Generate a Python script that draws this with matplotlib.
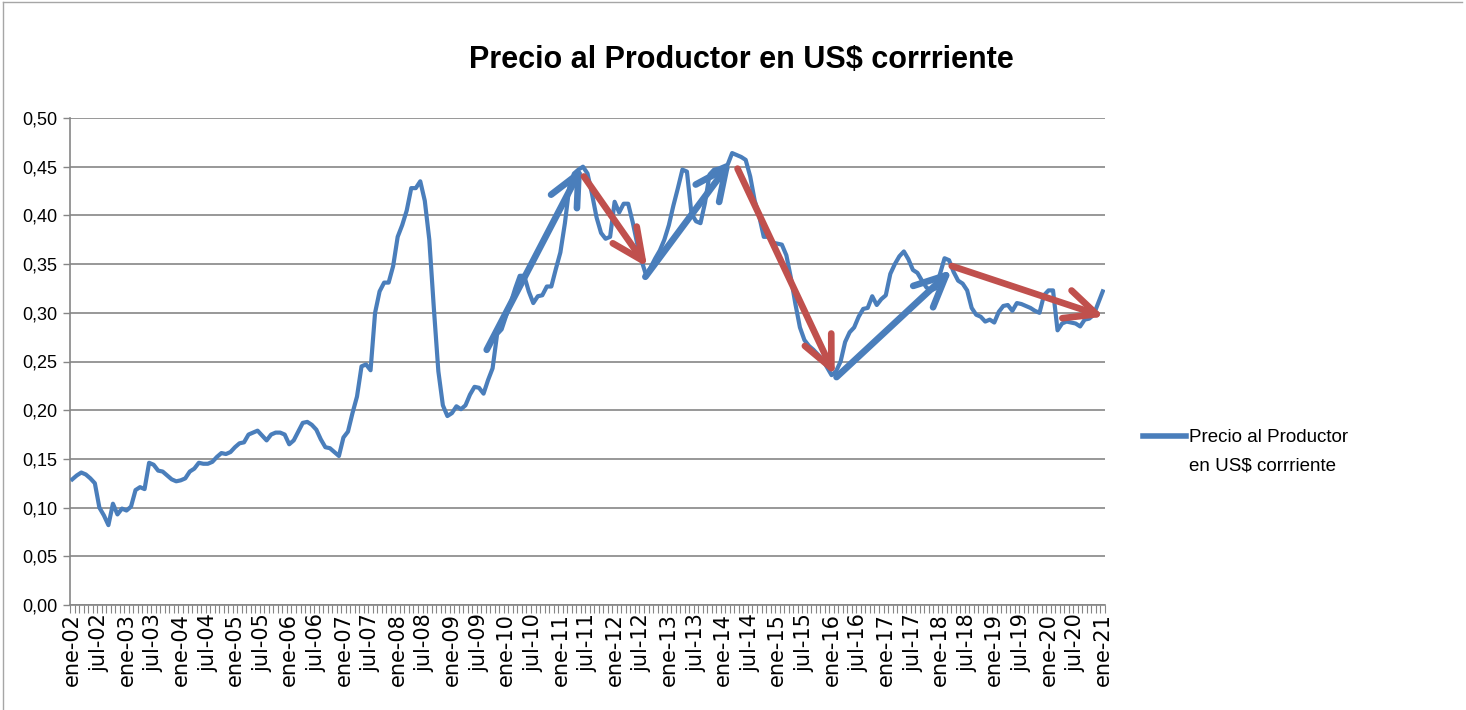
import matplotlib
matplotlib.use("Agg")
import matplotlib.pyplot as plt
from matplotlib.lines import Line2D
from matplotlib.offsetbox import HPacker
from matplotlib.ticker import FuncFormatter
import numpy as np

# Precio mensual al productor, ene-02 .. ene-21 (US$ corriente)
precio = [
    0.129, 0.133, 0.136, 0.134, 0.130, 0.125, 0.100, 0.092, 0.082, 0.104,
    0.093, 0.099, 0.097, 0.101, 0.118, 0.121, 0.119, 0.146, 0.144, 0.138,
    0.137, 0.133, 0.129, 0.127, 0.128, 0.130, 0.137, 0.140, 0.146, 0.145,
    0.145, 0.147, 0.152, 0.156, 0.155, 0.157, 0.162, 0.166, 0.167, 0.175,
    0.177, 0.179, 0.174, 0.169, 0.175, 0.177, 0.177, 0.175, 0.165, 0.169,
    0.178, 0.187, 0.188, 0.185, 0.180, 0.170, 0.162, 0.161, 0.157, 0.153,
    0.172, 0.178, 0.197, 0.214, 0.245, 0.247, 0.241, 0.300, 0.322, 0.331,
    0.331, 0.348, 0.378, 0.390, 0.405, 0.428, 0.428, 0.435, 0.415, 0.375,
    0.305, 0.240, 0.205, 0.194, 0.197, 0.204, 0.201, 0.205, 0.216, 0.224,
    0.223, 0.217, 0.231, 0.243, 0.278, 0.283, 0.297, 0.310, 0.325, 0.338,
    0.338, 0.322, 0.310, 0.317, 0.318, 0.327, 0.327, 0.345, 0.362, 0.392,
    0.430, 0.443, 0.447, 0.450, 0.443, 0.422, 0.398, 0.382, 0.376, 0.378,
    0.414, 0.403, 0.412, 0.412, 0.393, 0.371, 0.353, 0.338, 0.347, 0.356,
    0.364, 0.375, 0.390, 0.410, 0.428, 0.447, 0.445, 0.402, 0.394, 0.392,
    0.413, 0.442, 0.447, 0.448, 0.450, 0.452, 0.464, 0.462, 0.460, 0.457,
    0.440, 0.415, 0.399, 0.378, 0.378, 0.372, 0.371, 0.370, 0.359, 0.336,
    0.309, 0.285, 0.272, 0.266, 0.262, 0.257, 0.252, 0.244, 0.236, 0.240,
    0.250, 0.270, 0.280, 0.285, 0.296, 0.304, 0.305, 0.317, 0.308, 0.314,
    0.318, 0.340, 0.350, 0.358, 0.363, 0.355, 0.344, 0.341, 0.333, 0.326,
    0.323, 0.325, 0.340, 0.356, 0.354, 0.342, 0.333, 0.330, 0.323, 0.305,
    0.298, 0.296, 0.291, 0.293, 0.290, 0.301, 0.307, 0.308, 0.302, 0.310,
    0.309, 0.307, 0.305, 0.302, 0.300, 0.318, 0.323, 0.323, 0.282, 0.289,
    0.291, 0.290, 0.289, 0.286, 0.293, 0.294, 0.298, 0.310, 0.322,
]

meses = ["ene", "feb", "mar", "abr", "may", "jun",
         "jul", "ago", "sep", "oct", "nov", "dic"]
anio_inicio = 2002
etiquetas = [f"{meses[i % 12]}-{(anio_inicio + i // 12) % 100:02d}"
             for i in range(len(precio))]

# flechas de tendencia (mes, valor) -> (mes, valor)
flecha_inicio = [(91.7, 0.262), (113.2, 0.440), (126.8, 0.337),
                 (147.2, 0.448), (169.1, 0.234), (194.6, 0.348)]
flecha_fin = [(112.8, 0.450), (127.2, 0.347), (145.7, 0.455),
              (168.7, 0.236), (194.6, 0.344), (228.3, 0.296)]
flecha_sube = [True, False, True, False, True, False]

azul = "#4A7EBB"
rojo = "#C0504D"
gris = "#868686"
fuente = ["Liberation Sans", "DejaVu Sans"]

fig = plt.figure(figsize=(14.66, 7.10), dpi=100)
ax = fig.add_axes([70 / 1466, 1 - 605 / 710, 1035 / 1466, 487 / 710])

x = np.arange(len(precio))
ax.plot(x, precio, color=azul, lw=3, solid_joinstyle="round",
        label="Precio al Productor\nen US$ corrriente", zorder=3)

for ini, fin, sube in zip(flecha_inicio, flecha_fin, flecha_sube):
    ax.annotate("", xy=fin, xytext=ini,
                arrowprops=dict(arrowstyle="->,head_length=0.75,head_width=0.35",
                                color=azul if sube else rojo, lw=4.8,
                                mutation_scale=30, shrinkA=0, shrinkB=0),
                zorder=4)

ax.set_xlim(-0.5, len(precio) - 0.5)
ax.set_ylim(0, 0.5)
ax.set_yticks(np.arange(0, 0.501, 0.05))
ax.yaxis.set_major_formatter(FuncFormatter(lambda v, p: f"{v:.2f}".replace(".", ",")))

pos = [i for i in range(len(precio)) if i % 6 == 0]
ax.set_xticks(pos)
ax.set_xticklabels([etiquetas[i] for i in pos], rotation=90)
ax.set_xticks(np.arange(-0.5, len(precio), 1), minor=True)

ax.tick_params(axis="x", which="major", length=0, pad=6, labelsize=15)
ax.tick_params(axis="x", which="minor", length=6, width=0.8, color=gris)
ax.tick_params(axis="y", length=5, width=1, color=gris, labelsize=13, pad=4)
for lab in ax.get_yticklabels():
    lab.set_family(fuente)

ax.grid(axis="y", color=gris, lw=1.2)
ax.set_axisbelow(True)
for s in ["top", "right"]:
    ax.spines[s].set_visible(False)
for s in ["left", "bottom"]:
    ax.spines[s].set_color(gris)
    ax.spines[s].set_linewidth(1.2)

fig.text(0.506, 0.915, "Precio al Productor en US$ corrriente",
         ha="center", va="center", fontsize=22, fontweight="bold",
         family=fuente)

leg = fig.legend(loc="upper left", bbox_to_anchor=(1143 / 1466, 1 - 429 / 710),
                 frameon=False, borderpad=0, borderaxespad=0,
                 handlelength=2.3, handletextpad=0.15,
                 prop={"family": fuente, "size": 13.5})
for hp in leg.findobj(HPacker):
    hp.align = "top"
for t in leg.get_texts():
    t.set_linespacing(1.85)
for h in leg.get_lines():
    h.set_linewidth(4)

# borde del area del grafico
fig.add_artist(Line2D([3 / 1466, 1462 / 1466], [1 - 2 / 710, 1 - 2 / 710],
                      color="#A6A6A6", lw=1, transform=fig.transFigure))
fig.add_artist(Line2D([3 / 1466, 3 / 1466], [1 - 2 / 710, 0],
                      color="#A6A6A6", lw=1, transform=fig.transFigure))

fig.savefig("out.png", dpi=100)
